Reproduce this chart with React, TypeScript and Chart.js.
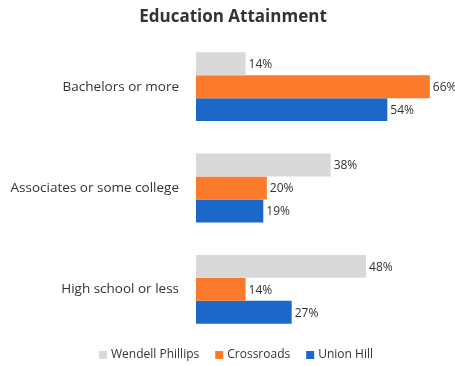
import React, { useEffect, useRef } from "react";
import { Chart, registerables } from "chart.js";

Chart.register(...registerables);

const categories = ["Bachelors or more", "Associates or some college", "High school or less"];
const wendellPhillips = [14, 38, 48];
const crossroads = [66, 20, 14];
const unionHill = [54, 19, 27];
const seriesNames = ["Wendell Phillips", "Crossroads", "Union Hill"];
const seriesColors = ["#d9d9d9", "#fb7a2b", "#1c68c8"];
const chartTitle = "Education Attainment";

const FONT = "'Open Sans', 'Noto Sans', sans-serif";

const valueLabels = {
  id: "valueLabels",
  afterDatasetsDraw(chart: any) {
    const ctx = chart.ctx;
    ctx.save();
    ctx.font = `12px ${FONT}`;
    ctx.fillStyle = "#333";
    ctx.textAlign = "left";
    ctx.textBaseline = "middle";
    chart.data.datasets.forEach((ds: any, i: number) => {
      const meta = chart.getDatasetMeta(i);
      meta.data.forEach((bar: any, j: number) => {
        ctx.fillText(ds.data[j] + "%", bar.x + 3, bar.y + 1);
      });
    });
    ctx.restore();
  },
};

const titleDraw = {
  id: "titleDraw",
  afterDraw(chart: any) {
    const ctx = chart.ctx;
    ctx.save();
    ctx.font = `bold 17px ${FONT}`;
    ctx.fillStyle = "#333";
    ctx.textAlign = "center";
    ctx.textBaseline = "middle";
    ctx.fillText(chartTitle, 233, 17);
    ctx.restore();
  },
};

const legendDraw = {
  id: "legendDraw",
  afterDraw(chart: any) {
    const ctx = chart.ctx;
    ctx.save();
    ctx.font = `12px ${FONT}`;
    ctx.textBaseline = "middle";
    ctx.textAlign = "left";
    const box = 8;
    const gapBox = 4;
    const gapItem = 16;
    const ds = chart.data.datasets;
    const widths = ds.map((d: any) => box + gapBox + ctx.measureText(d.label).width);
    const total = widths.reduce((a: number, b: number) => a + b, 0) + gapItem * (ds.length - 1);
    let x = 236 - total / 2;
    const y = 355;
    ds.forEach((d: any, i: number) => {
      ctx.fillStyle = d.backgroundColor;
      ctx.fillRect(x, y - box / 2, box, box);
      ctx.fillStyle = "#333";
      ctx.fillText(d.label, x + box + gapBox, y);
      x += widths[i] + gapItem;
    });
    ctx.restore();
  },
};

export default function App() {
  const ref = useRef<HTMLCanvasElement>(null);
  useEffect(() => {
    document.body.style.margin = "0";
    const chart = new Chart(ref.current!, {
      type: "bar",
      data: {
        labels: categories,
        datasets: [
          { label: seriesNames[0], data: wendellPhillips, backgroundColor: seriesColors[0] },
          { label: seriesNames[1], data: crossroads, backgroundColor: seriesColors[1] },
          { label: seriesNames[2], data: unionHill, backgroundColor: seriesColors[2] },
        ],
      },
      options: {
        indexAxis: "y",
        animation: false,
        responsive: false,
        maintainAspectRatio: false,
        layout: { padding: { left: 0, right: 11, top: 36, bottom: 26 } },
        datasets: { bar: { categoryPercentage: 0.68, barPercentage: 1.0 } },
        scales: {
          x: { display: false, min: 0, max: 70 },
          y: {
            grid: { display: false },
            border: { display: false },
            ticks: {
              color: "#333",
              font: { family: FONT, size: 13.5 },
              padding: 9,
            },
            afterFit(scale: any) {
              scale.width = 196;
            },
          },
        },
        plugins: {
          title: { display: false },
          legend: { display: false },
          tooltip: { enabled: false },
        },
      },
      plugins: [valueLabels, titleDraw, legendDraw],
    });
    return () => chart.destroy();
  }, []);
  return (
    <div style={{ width: 455, height: 366 }}>
      <canvas ref={ref} width={455} height={366} />
    </div>
  );
}
